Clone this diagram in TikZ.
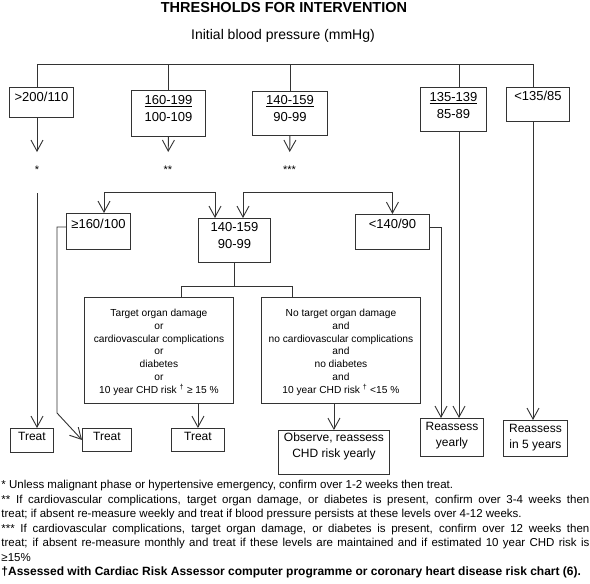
\documentclass[tikz,border=0pt]{standalone}
\usepackage{fontspec}
\setmainfont{Liberation Sans}
\usetikzlibrary{arrows.meta}

\begin{document}
\begin{tikzpicture}[
        ->,
        >={Straight Barb[length=11pt,width=12pt]},
        line width=0.9pt,
        color=black!80,
        x=1pt,
        y=1pt,
        yscale=-1,
        every node/.append style={text=black},
        box/.style={draw, anchor=north west, inner sep=0pt, align=center,
            font=\fontsize{13}{16.5}\selectfont},
        riskbox/.style={box, font=\fontsize{10.2}{12.85}\selectfont},
        endbox/.style={box, font=\fontsize{12}{15.5}\selectfont},
        stars/.style={anchor=north, inner sep=0pt, font=\fontsize{11}{13}\selectfont}
    ]
    \useasboundingbox (0,0) rectangle (590,584);

    \node[font=\bfseries\fontsize{14.5}{17}\selectfont] (title) at (284,7.5) {THRESHOLDS FOR INTERVENTION};
    \node[font=\fontsize{14}{17}\selectfont] (sub) at (283,35.7) {Initial blood pressure (mmHg)};

    \node[box, minimum width=64pt, text height=14pt, text depth=16pt] (g200) at (9,87) {>200/110};
    \node[box, minimum width=74pt, text height=31pt, text depth=15pt] (b160) at (131,90) {\underline{160-199}\\100-109};
    \node[box, minimum width=75pt, text height=30pt, text depth=14pt] (b140) at (252,91) {\underline{140-159}\\90-99};
    \node[box, minimum width=66pt, text height=31pt, text depth=13pt] (b135) at (420,87) {\underline{135-139}\\85-89};
    \node[box, minimum width=63pt, text height=13pt, text depth=21pt] (lt135) at (506,87) {<135/85};

    \node[stars] (s1) at (37,165) {*};
    \node[stars] (s2) at (168,165) {**};
    \node[stars] (s3) at (289.5,165) {***};

    \node[box, minimum width=64pt, text height=15pt, text depth=21pt] (hi) at (66,213) {≥160/100};
    \node[box, minimum width=72pt, text height=30pt, text depth=14pt] (mid) at (198,218) {140-159\\90-99};
    \node[box, minimum width=74pt, text height=14pt, text depth=21pt] (lo) at (355,214) {<140/90};

    \node[riskbox, minimum width=149pt, text height=96pt, text depth=10pt] (tod) at (84,297)
        {Target organ damage\\or\\cardiovascular complications\\or\\diabetes\\or\\10 year CHD risk \textsuperscript{†} ≥ 15 \%};
    \node[riskbox, minimum width=159pt, text height=96pt, text depth=10pt] (notod) at (261,297)
        {No target organ damage\\and\\no cardiovascular complications\\and\\no diabetes\\and\\10 year CHD risk \textsuperscript{†} <15 \%};

    \node[endbox, minimum width=43pt, text height=12pt, text depth=12pt] (t1) at (10,428) {Treat};
    \node[endbox, minimum width=49pt, text height=12pt, text depth=11pt] (t2) at (82,428) {Treat};
    \node[endbox, minimum width=53pt, text height=12pt, text depth=11pt] (t3) at (171,428) {Treat};
    \node[endbox, minimum width=111pt, text height=27pt, text depth=17pt] (obs) at (278,430) {Observe, reassess\\CHD risk yearly};
    \node[endbox, minimum width=63pt, text height=28pt, text depth=10pt] (ry) at (420,418) {Reassess\\yearly};
    \node[endbox, minimum width=64pt, text height=28pt, text depth=8pt] (r5) at (503,420) {Reassess\\in 5 years};

    \coordinate (busl) at (37,64);
    \coordinate (busr) at (533,64);
    \coordinate (j135) at (459,64);
    \coordinate (k1) at (37,193);
    \coordinate (k2a) at (104,192);
    \coordinate (k2b) at (215,192);
    \coordinate (k3a) at (243,192);
    \coordinate (k4) at (57,227);
    \coordinate (k5) at (57,413);
    \coordinate (k6) at (441,227);
    \coordinate (k7l) at (181,286);
    \coordinate (k7r) at (292,286);

    \draw[-] (busl |- g200.north) -- (busl) -- (busr) -- (busr |- lt135.north);
    \draw[-] (b160.north) -- (b160.north |- busl);
    \draw[-] (b140.north) -- (b140.north |- busl);
    \draw[-] (j135) -- (j135 |- b135.north);

    \draw[shorten >=13pt] (busl |- g200.south) -- (s1.north);
    \draw[shorten >=13pt] (b160.south) -- (s2.north);
    \draw[shorten >=13pt] (b140.south) -- (s3.north);

    \draw (k1) -- (k1 |- t1.north);
    \draw[<->] (k2a |- hi.north) -- (k2a) -- (k2b) -- (k2b |- mid.north);
    \draw[<->] (k3a |- mid.north) -- (k3a) -| (lo.north);
    \draw (k4 -| hi.west) -- (k4) -- (k5) -- (t2.west);
    \draw (k6 -| lo.east) -- (k6) -- (k6 |- ry.north);
    \draw (j135 |- b135.south) -- (j135 |- ry.north);
    \draw (busr |- lt135.south) -- (busr |- r5.north);
    \draw[-] (mid.south) -- (mid.south |- k7l);
    \draw[-] (k7l |- tod.north) -- (k7l) -- (k7r) -- (k7r |- notod.north);
    \draw (tod.south -| t3.north) -- (t3.north);
    \draw (notod.south -| obs.north) -- (obs.north);

    \node[anchor=north west, inner sep=0pt, text width=588pt, align=justify,
        font=\fontsize{11.5}{14.5}\selectfont] (notes) at (1,480)
        {\hyphenpenalty=10000 \exhyphenpenalty=10000
        * Unless malignant phase or hypertensive emergency, confirm over 1-2 weeks then treat.\par
        ** If cardiovascular complications, target organ damage, or diabetes is present, confirm over 3-4 weeks then\linebreak
        treat; if absent re-measure weekly and treat if blood pressure persists at these levels over 4-12 weeks.\par
        *** If cardiovascular complications, target organ damage, or diabetes is present, confirm over 12 weeks then\linebreak
        treat; if absent re-measure monthly and treat if these levels are maintained and if estimated 10 year CHD risk is\linebreak
        ≥15\%\par
        \mbox{\bfseries\fontsize{12}{14.5}\selectfont †Assessed with Cardiac Risk Assessor computer programme or coronary heart disease risk chart (6).}};
\end{tikzpicture}
\end{document}
